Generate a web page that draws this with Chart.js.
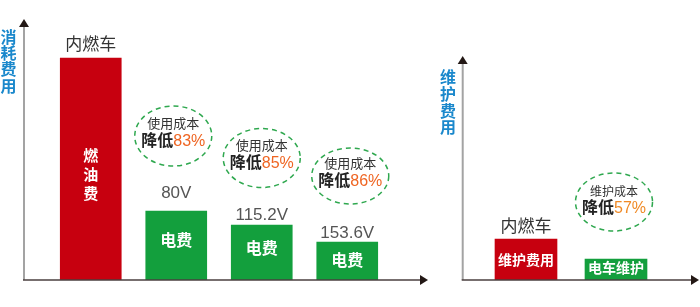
<!DOCTYPE html>
<html>
<head>
<meta charset="utf-8">
<script src="https://cdn.jsdelivr.net/npm/chart.js@4"></script>
<style>
  html, body { margin: 0; padding: 0; background: #fff; width: 700px; height: 307px; overflow: hidden; }
  canvas { position: absolute; top: 0; }
  #costChart { left: 0; }
  #maintChart { left: 435px; }
</style>
</head>
<body>
<canvas id="costChart" width="435" height="307"></canvas>
<canvas id="maintChart" width="265" height="307"></canvas>
<script>
// ---- data: running cost (left) ----
const costCategories = ['内燃车', '80V', '115.2V', '153.6V'];
const costValues = [222, 69, 55, 38];
const costInnerLabels = ['燃油费', '电费', '电费', '电费'];
const costSavings = [null, 83, 85, 86];

// ---- data: maintenance cost (right) ----
const maintCategories = ['内燃车', '电车'];
const maintTopLabels = ['内燃车', ''];
const maintValues = [41, 21];
const maintInnerLabels = ['维护费用', '电车维护'];
const maintSavings = [null, 57];

// ---- layout / style ----
const FONT = '"Liberation Sans", "Noto Sans CJK SC", sans-serif';
const RED = '#c7000f';
const GREEN = '#139f3d';
const AXIS_BLUE = '#1a88cc';
const costLabelGap = [13, 18, 10, 9];
const maintLabelGap = [12, 0];

function drawArrowAxes(ctx, o) {
  ctx.save();
  // vertical axis
  ctx.strokeStyle = '#a3a3a3';
  ctx.lineWidth = 2;
  ctx.beginPath();
  ctx.moveTo(o.x, o.bottom);
  ctx.lineTo(o.x, o.top + 6);
  ctx.stroke();
  ctx.fillStyle = '#231815';
  ctx.beginPath();
  ctx.moveTo(o.x, o.top);
  ctx.lineTo(o.x - 5, o.top + 8);
  ctx.lineTo(o.x + 5, o.top + 8);
  ctx.closePath();
  ctx.fill();
  // horizontal axis
  ctx.strokeStyle = '#4a3f3f';
  ctx.lineWidth = 1.5;
  ctx.beginPath();
  ctx.moveTo(o.x - 1, o.bottom);
  ctx.lineTo(o.right - 6, o.bottom);
  ctx.stroke();
  ctx.beginPath();
  ctx.moveTo(o.right, o.bottom);
  ctx.lineTo(o.right - 8, o.bottom - 5);
  ctx.lineTo(o.right - 8, o.bottom + 5);
  ctx.closePath();
  ctx.fill();
  // vertical axis title
  ctx.fillStyle = AXIS_BLUE;
  ctx.font = 'bold 16px ' + FONT;
  ctx.textAlign = 'center';
  ctx.textBaseline = 'middle';
  [...o.title].forEach((ch, i) => ctx.fillText(ch, o.titleX, o.titleY + i * o.titleStep));
  ctx.restore();
}

function drawCallout(ctx, cx, cy, rx, ry, line1, pct, pctColor, small) {
  ctx.save();
  ctx.strokeStyle = '#2fa84f';
  ctx.lineWidth = 1.5;
  ctx.setLineDash([5, 4]);
  ctx.beginPath();
  ctx.ellipse(cx, cy, rx, ry, 0, 0, Math.PI * 2);
  ctx.stroke();
  ctx.setLineDash([]);
  ctx.textBaseline = 'middle';
  ctx.textAlign = 'center';
  ctx.fillStyle = '#333';
  ctx.font = (small ? 12 : 13) + 'px ' + FONT;
  ctx.fillText(line1, cx, cy - (small ? 9 : 12));
  const big = 16;
  const a = '降低', b = pct + '%';
  ctx.font = 'bold ' + big + 'px ' + FONT;
  const wa = ctx.measureText(a).width;
  ctx.font = big + 'px ' + FONT;
  const wb = ctx.measureText(b).width;
  const x0 = cx - (wa + wb) / 2;
  const y2 = cy + (small ? 7 : 6);
  ctx.textAlign = 'left';
  ctx.font = 'bold ' + big + 'px ' + FONT;
  ctx.fillStyle = '#222';
  ctx.fillText(a, x0, y2);
  ctx.font = big + 'px ' + FONT;
  ctx.fillStyle = pctColor;
  ctx.fillText(b, x0 + wa, y2);
  ctx.restore();
}

function decorPlugin(opts) {
  return {
    id: 'decor',
    afterDatasetsDraw(chart) {
      const ctx = chart.ctx;
      drawArrowAxes(ctx, opts.axes);
      const meta = chart.getDatasetMeta(0);
      meta.data.forEach((bar, i) => {
        const top = bar.y, base = bar.base, x = bar.x;
        ctx.save();
        ctx.textAlign = 'center';
        ctx.textBaseline = 'middle';
        // label above the bar
        const topText = opts.topLabels[i];
        const labelY = top - opts.labelGap[i];
        if (topText) {
          const isCar = /[\u4e00-\u9fff]/.test(topText);
          ctx.fillStyle = isCar ? '#333' : '#555';
          ctx.font = '17px ' + FONT;
          ctx.fillText(topText, x, labelY);
        }
        // label inside the bar
        const inner = opts.innerLabels[i];
        ctx.fillStyle = '#fff';
        if (opts.vertical && opts.vertical[i]) {
          ctx.font = 'bold 15px ' + FONT;
          const chars = [...inner];
          const mid = (top + base) / 2 + 7;
          chars.forEach((ch, k) => ctx.fillText(ch, x, mid + (k - (chars.length - 1) / 2) * 19));
        } else {
          ctx.font = 'bold ' + opts.innerSize + 'px ' + FONT;
          ctx.fillText(inner, x, (top + base) / 2 + opts.innerShift[i]);
        }
        ctx.restore();
        // savings callout
        const pct = opts.savings[i];
        if (pct != null) {
          drawCallout(ctx, x + opts.calloutDx[i], labelY - 57, 38.5, opts.calloutRy[i],
                      opts.calloutText, pct, opts.pctColor, opts.small);
        }
      });
    }
  };
}

function baseOptions(padding) {
  return {
    responsive: false,
    devicePixelRatio: 1,
    animation: false,
    layout: { padding },
    plugins: { legend: { display: false }, tooltip: { enabled: false } },
    scales: {
      x: { display: false, offset: true },
      y: { display: false, min: 0, max: 260 }
    }
  };
}

new Chart(document.getElementById('costChart'), {
  type: 'bar',
  data: {
    labels: costCategories,
    datasets: [{
      data: costValues,
      backgroundColor: [RED, GREEN, GREEN, GREEN],
      borderWidth: 0,
      barThickness: 61
    }]
  },
  options: baseOptions({ left: 48, right: 45, top: 20, bottom: 27 }),
  plugins: [decorPlugin({
    axes: { x: 24, top: 19, bottom: 280, right: 428, title: '消耗费用', titleX: 8.5, titleY: 38.5, titleStep: 16.2 },
    topLabels: costCategories,
    labelGap: costLabelGap,
    innerLabels: costInnerLabels,
    vertical: [true, false, false, false],
    innerSize: 16,
    innerShift: [0, -4, -3, 1],
    savings: costSavings,
    calloutDx: [0, -3, 0, 3],
    calloutRy: [0, 30, 29.5, 28],
    calloutText: '使用成本',
    pctColor: '#ef6522',
    small: false
  })]
});

new Chart(document.getElementById('maintChart'), {
  type: 'bar',
  data: {
    labels: maintCategories,
    datasets: [{
      data: maintValues,
      backgroundColor: [RED, GREEN],
      borderWidth: 0,
      barThickness: 62
    }]
  },
  options: baseOptions({ left: 46, right: 39, top: 20, bottom: 27 }),
  plugins: [decorPlugin({
    axes: { x: 27.7, top: 56, bottom: 280, right: 264, title: '维护费用', titleX: 13, titleY: 78.5, titleStep: 16.8 },
    topLabels: maintTopLabels,
    labelGap: maintLabelGap,
    innerLabels: maintInnerLabels,
    vertical: [false, false],
    innerSize: 14,
    innerShift: [2, 0],
    savings: maintSavings,
    calloutDx: [0, -2],
    calloutRy: [0, 29],
    calloutText: '维护成本',
    pctColor: '#f08a26',
    small: true
  })]
});
</script>
</body>
</html>
